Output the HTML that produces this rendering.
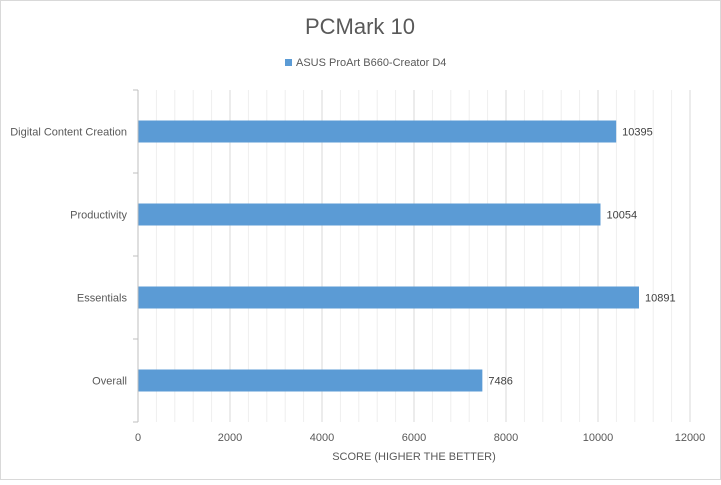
<!DOCTYPE html>
<html><head><meta charset="utf-8"><style>
body{margin:0;background:#fff;}
svg{font-family:"Liberation Sans",sans-serif;}
</style></head><body>
<svg id="c" width="721" height="480">
<rect x="0.5" y="0.5" width="720" height="479" fill="#fff" stroke="#d9d9d9"/>
<text x="360" y="34" text-anchor="middle" font-size="22" fill="#595959">PCMark 10</text>
<g><rect x="285" y="59" width="7" height="7" fill="#5b9bd5"/><text x="296" y="66" font-size="11" fill="#595959">ASUS ProArt B660-Creator D4</text></g>
<g id="grid"></g><g id="bars"></g><g id="axes"></g>
<text x="414" y="460" text-anchor="middle" font-size="11" fill="#595959">SCORE (HIGHER THE BETTER)</text>
</svg>
<script>
const categories=["Digital Content Creation","Productivity","Essentials","Overall"];
const values=[10395,10054,10891,7486];
const ticks=[0,2000,4000,6000,8000,10000,12000];
const x0=138,x1=690,yTop=90,yBot=422,max=12000;
const xs=v=>x0+v/max*(x1-x0);
const band=(yBot-yTop)/categories.length;
const ns="http://www.w3.org/2000/svg";
function mk(t,a,p){const e=document.createElementNS(ns,t);for(const k in a)e.setAttribute(k,a[k]);p.appendChild(e);return e;}
const g=document.getElementById('grid'),b=document.getElementById('bars'),ax=document.getElementById('axes');
for(let v=400;v<=max;v+=400){const l=mk('line',{x1:xs(v),x2:xs(v),y1:yTop,y2:yBot,stroke:v%2000===0?'#d9d9d9':'#eeeeee','stroke-width':1},g);

}
ticks.forEach(t=>{const e=mk('text',{x:xs(t),y:441,'text-anchor':'middle','font-size':11,fill:'#595959'},ax);e.textContent=t;

});
const axl=mk('line',{x1:x0,x2:x0,y1:yTop,y2:yBot,stroke:'#bfbfbf'},ax);


for(let i=0;i<=categories.length;i++){const tk=mk('line',{x1:x0-5,x2:x0,y1:yTop+i*band,y2:yTop+i*band,stroke:'#bfbfbf'},ax);

}
categories.forEach((c,i)=>{const cy=yTop+band*(i+0.5);
const r=mk('rect',{x:x0,y:cy-11,width:xs(values[i])-x0,height:22,fill:'#5b9bd5'},b);


const lb=mk('text',{x:xs(values[i])+6,y:cy+4,'font-size':11,fill:'#404040'},b);lb.textContent=values[i];


const cl=mk('text',{x:127,y:cy+4,'text-anchor':'end','font-size':11,fill:'#595959'},ax);cl.textContent=c;

});
</script>
</body></html>
